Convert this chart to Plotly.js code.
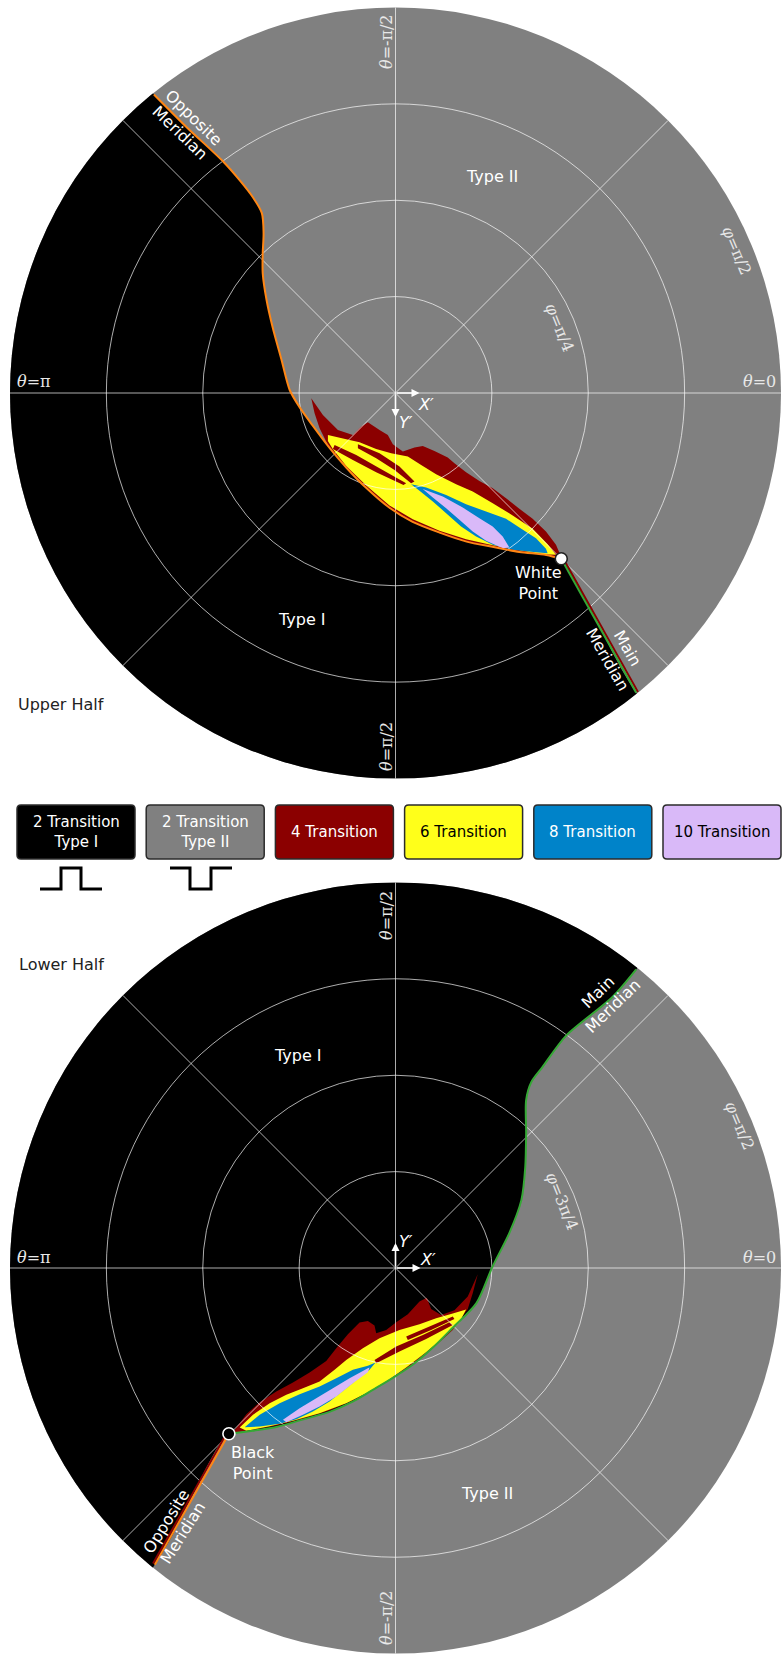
<!DOCTYPE html>
<html>
<head>
<meta charset="utf-8">
<script src="https://cdn.plot.ly/plotly-3.0.1.min.js"></script>
<style>html,body{margin:0;padding:0;background:#ffffff;}#chart{width:784px;height:1657px;}</style>
</head>
<body>
<div id="chart"></div>
<script>
// Projected coordinates X′, Y′ in degrees of arc from the disk centre.
// Upper half: Y′ points down and |(X′,Y′)| = φ.  Lower half: Y′ points up and |(X′,Y′)| = 180° − φ.

// ---------------- upper half ----------------
const upperOppositeMeridianX = [-56.4,-48.7,-40.3,-36.4,-33.3,-31.2,-30.8,-31.0,-31.0,-30.1,-28.7,-26.6,-24.7,-22.4,-19.4,-15.4,-11.4,-6.8,-1.4,4.0,10.3,16.6,22.6,28.9,35.2,38.7];
const upperOppositeMeridianY = [-69.7,-62.0,-54.1,-49.7,-45.7,-42.0,-37.3,-32.6,-28.0,-21.7,-15.4,-7.7,-0.7,3.3,7.5,12.8,17.5,22.2,26.8,30.1,32.6,34.7,35.9,37.1,37.8,38.7];
const upperMainMeridianX = [38.7, 56.2];
const upperMainMeridianY = [38.7, 70.0];
const upperMainStripX = [39.1, 56.6];
const upperMainStripY = [38.5, 69.8];
const whitePointX = [38.7];
const whitePointY = [38.7];

const upperFan4X = [-19.67,-16.95,-13.45,-9.95,-8.01,-6.45,-3.73,-1.79,-0.62,1.71,4.43,6.37,9.09,12.20,13.76,16.48,19.59,22.70,25.81,28.92,32.02,35.13,37.47,38.63,35.13,28.92,22.70,16.48,10.26,4.04,-1.40,-6.84,-11.50,-15.39,-16.56,-17.72,-18.89];
const upperFan4Y = [1.24,5.13,8.63,9.79,7.85,6.84,8.63,9.79,11.97,13.68,12.75,12.36,13.53,15.08,16.40,18.50,20.52,22.23,24.56,27.05,29.38,32.34,35.44,38.16,37.93,37.00,35.99,34.67,32.72,30.00,26.89,22.23,17.57,12.90,10.57,8.24,4.74];
const upperFan6X = [-15.78,-11.50,-8.39,-4.51,-1.01,2.88,5.99,9.48,14.15,18.03,22.70,27.36,32.02,35.52,37.47,34.36,28.92,22.70,16.48,10.26,4.04,-1.40,-6.84,-11.50,-14.61,-15.78];
const upperFan6Y = [9.79,10.80,11.50,13.06,14.07,14.85,16.79,18.97,21.30,23.01,25.73,28.60,31.71,35.29,37.78,37.62,36.69,35.52,34.12,32.18,29.46,26.27,21.61,17.02,13.14,11.19];
const upperStreakAX = [-8.78,-3.73,0.93,4.43,3.65,-0.23,-4.51,-8.78];
const upperStreakAY = [11.97,14.07,17.18,20.68,21.07,17.96,15.24,12.90];
const upperStreakBX = [-14.22,-9.17,-3.73,2.49,1.87,-4.51,-9.95,-14.61];
const upperStreakBY = [12.12,14.46,17.57,21.07,21.45,18.50,15.62,13.06];
const upperFan8X = [3.65,7.15,11.82,16.48,21.14,25.81,28.92,32.80,35.13,35.52,32.80,27.36,22.70,18.81,15.31,11.82,8.71,5.60];
const upperFan8Y = [21.30,22.08,23.79,25.96,27.67,29.38,31.40,33.89,36.38,37.39,37.15,36.61,35.44,33.50,31.17,28.06,25.34,22.85];
const upperFan10X = [6.37,11.04,15.70,19.59,22.70,25.03,26.58,25.03,21.14,18.03,14.92,11.82,8.71];
const upperFan10Y = [22.39,24.17,26.74,29.23,31.17,33.50,36.07,36.22,34.51,32.34,29.62,26.89,24.41];

// ---------------- lower half ----------------
const lowerMainMeridianX = [56.2,50.6,39.9,34.3,31.7,30.5,30.5,30.3,29.4,26.6,22.6,18.9,13.3,8.6,4.0,-0.7,-5.4,-10.0,-15.4,-21.7,-27.8,-33.3,-38.9];
const lowerMainMeridianY = [69.7,63.2,54.3,46.9,43.4,39.2,31.5,23.6,15.9,8.2,0.2,-8.2,-14.0,-18.7,-22.6,-25.7,-28.5,-31.2,-33.6,-35.4,-37.1,-38.0,-38.7];
const lowerOppositeMeridianX = [-38.9, -56.2];
const lowerOppositeMeridianY = [-38.7, -69.3];
const lowerOppositeStripX = [-39.3, -56.6];
const lowerOppositeStripY = [-38.4, -69.0];
const blackPointX = [-38.9];
const blackPointY = [-38.7];

const lowerFan4X = [-37.54,-34.82,-31.71,-27.83,-23.94,-20.05,-16.17,-13.83,-11.11,-8.39,-6.45,-4.90,-4.51,-2.17,0.16,2.88,5.60,7.31,8.32,10.65,13.76,16.87,19.20,18.03,16.87,13.37,8.71,4.04,-0.62,-5.28,-9.95,-15.39,-21.61,-27.83,-33.27,-37.93];
const lowerFan4Y = [-37.78,-34.12,-31.32,-28.84,-26.74,-24.41,-21.69,-18.73,-15.47,-12.75,-12.36,-13.45,-15.24,-14.46,-12.67,-10.80,-7.85,-6.92,-9.56,-10.96,-9.87,-6.68,-1.48,-5.91,-9.56,-14.46,-18.73,-22.46,-25.57,-28.21,-30.93,-33.27,-35.21,-36.76,-37.78,-38.55];
const lowerFan6X = [-36.38,-33.27,-29.38,-25.49,-21.61,-17.72,-14.22,-11.50,-7.62,-3.73,0.93,5.60,9.48,13.37,16.48,14.93,11.82,7.15,2.49,-2.17,-6.84,-11.50,-17.72,-23.94,-29.38,-34.82];
const lowerFan6Y = [-37.23,-34.28,-31.56,-29.61,-28.06,-26.50,-23.78,-21.45,-18.73,-16.40,-14.46,-13.13,-11.73,-10.65,-9.71,-12.67,-15.62,-19.66,-23.24,-26.50,-29.22,-31.56,-33.89,-35.68,-36.92,-38.01];
const lowerStreakAX = [-4.90,0.16,6.38,12.59,13.37,7.15,0.93,-4.51];
const lowerStreakAY = [-21.45,-18.34,-15.62,-12.67,-13.29,-16.56,-19.51,-22.23];
const lowerStreakBX = [2.49,7.93,13.37,13.76,8.32,2.88];
const lowerStreakBY = [-16.01,-13.68,-11.35,-11.89,-14.46,-16.79];
const lowerFan8X = [-35.21,-31.71,-27.05,-22.38,-17.72,-13.83,-9.95,-6.45,-4.66,-6.06,-7.62,-11.50,-15.39,-19.28,-23.16,-27.05,-31.71];
const lowerFan8Y = [-37.15,-34.28,-31.56,-29.46,-27.67,-25.72,-23.78,-22.85,-22.07,-23.78,-24.95,-28.06,-31.17,-33.50,-35.29,-36.38,-37.00];
const lowerFan10X = [-26.27,-22.38,-18.50,-14.61,-10.73,-6.45,-6.06,-6.45,-9.95,-13.83,-17.72,-21.61,-25.49];
const lowerFan10Y = [-35.45,-32.72,-30.39,-28.06,-25.72,-23.39,-23.24,-24.33,-26.89,-30.00,-32.34,-34.28,-35.99];

// ---------------- legend ----------------
const legendLabels = ['2 Transition<br>Type I','2 Transition<br>Type II','4 Transition','6 Transition','8 Transition','10 Transition'];
const legendColors = ['#000000','#808080','#8b0000','#ffff1a','#0083c9','#d9b9f8'];
const legendTextColors = ['#ffffff','#ffffff','#ffffff','#000000','#ffffff','#000000'];

// ---------------- geometry / styles ----------------
const W = 784, H = 1657;
const UP = {cx: 395.5, cy: 393, R: 385.5};
const LO = {cx: 395.5, cy: 1268, R: 385.5};
const GRID = 'rgba(255,255,255,0.68)';
const SANS = 'DejaVu Sans, Verdana, sans-serif';
const SERIF = 'DejaVu Serif, serif';
const ORANGE = '#ff8614';
const GREEN = '#35a835';
const C_TYPE1 = legendColors[0], C_TYPE2 = legendColors[1], C4 = legendColors[2], C6 = legendColors[3], C8 = legendColors[4], C10 = legendColors[5];

function domainOf(d) {
  return {x: [(d.cx - d.R) / W, (d.cx + d.R) / W], y: [1 - (d.cy + d.R) / H, 1 - (d.cy - d.R) / H]};
}
function toPolar(xs, ys, lower) {
  const theta = [], r = [];
  for (let i = 0; i < xs.length; i++) {
    const rho = Math.hypot(xs[i], ys[i]);
    theta.push(Math.atan2(ys[i], xs[i]) * 180 / Math.PI);
    r.push(lower ? 180 - rho : rho);
  }
  return {theta, r};
}
function concat(a, b) { return {theta: a.theta.concat(b.theta.slice(1)), r: a.r.concat(b.r.slice(1))}; }
// close a region around the outside of the rim (the part beyond the rim is clipped by the subplot)
function closeBeyondRim(p, lower, increasing) {
  const th = p.theta.slice(), r = p.r.slice();
  const from = th[th.length - 1];
  let to = th[0];
  if (increasing) { while (to <= from) to += 360; } else { while (to >= from) to -= 360; }
  const rOut = lower ? -40 : 220;
  const n = Math.ceil(Math.abs(to - from) / 30);
  for (let k = 0; k <= n; k++) { th.push(from + (to - from) * k / n); r.push(rOut); }
  return {theta: th, r: r};
}
function region(p, color, sub, smooth) {
  return {type: 'scatterpolar', subplot: sub, theta: p.theta, r: p.r, mode: 'lines', fill: 'toself',
    fillcolor: color, line: {width: 0, color: color, shape: smooth ? 'spline' : 'linear', smoothing: 0.8},
    hoverinfo: 'skip', cliponaxis: true, showlegend: false};
}
function curve(p, color, width, sub, smooth) {
  return {type: 'scatterpolar', subplot: sub, theta: p.theta, r: p.r, mode: 'lines',
    line: {color: color, width: width, shape: smooth ? 'spline' : 'linear', smoothing: 0.8},
    hoverinfo: 'skip', cliponaxis: true, showlegend: false};
}
function point(p, fill, edge, sub) {
  return {type: 'scatterpolar', subplot: sub, theta: p.theta, r: p.r, mode: 'markers',
    marker: {size: 12, color: fill, line: {color: edge, width: 1.6}}, hoverinfo: 'skip', cliponaxis: false, showlegend: false};
}
function polarLayout(d, lower, overlay) {
  return {
    domain: domainOf(d),
    bgcolor: overlay ? 'rgba(0,0,0,0)' : C_TYPE2,
    radialaxis: {range: lower ? [180, 90] : [0, 90], tickvals: lower ? [157.5, 135, 112.5] : [22.5, 45, 67.5],
      showticklabels: false, ticks: '', showline: false, showgrid: overlay, gridcolor: GRID, gridwidth: 1},
    angularaxis: {direction: lower ? 'counterclockwise' : 'clockwise', rotation: 0, tickmode: 'linear', tick0: 0, dtick: 45,
      showticklabels: false, ticks: '', showline: false, showgrid: overlay, gridcolor: GRID, gridwidth: 1}
  };
}

// ---------------- traces ----------------
const uOpp = toPolar(upperOppositeMeridianX, upperOppositeMeridianY, false);
const uMain = toPolar(upperMainMeridianX, upperMainMeridianY, false);
const lMain = toPolar(lowerMainMeridianX, lowerMainMeridianY, true);
const lOpp = toPolar(lowerOppositeMeridianX, lowerOppositeMeridianY, true);

const traces = [
  // upper data layer
  region(closeBeyondRim(concat(uOpp, uMain), false, true), C_TYPE1, 'polar', true),
  region(toPolar(upperFan4X, upperFan4Y, false), C4, 'polar'),
  region(toPolar(upperFan6X, upperFan6Y, false), C6, 'polar'),
  region(toPolar(upperStreakAX, upperStreakAY, false), C4, 'polar'),
  region(toPolar(upperStreakBX, upperStreakBY, false), C4, 'polar'),
  region(toPolar(upperFan8X, upperFan8Y, false), C8, 'polar'),
  region(toPolar(upperFan10X, upperFan10Y, false), C10, 'polar'),
  // lower data layer
  region(closeBeyondRim(concat(lMain, lOpp), true, false), C_TYPE1, 'polar2', true),
  region(toPolar(lowerFan4X, lowerFan4Y, true), C4, 'polar2'),
  region(toPolar(lowerFan6X, lowerFan6Y, true), C6, 'polar2'),
  region(toPolar(lowerStreakAX, lowerStreakAY, true), C4, 'polar2'),
  region(toPolar(lowerStreakBX, lowerStreakBY, true), C4, 'polar2'),
  region(toPolar(lowerFan8X, lowerFan8Y, true), C8, 'polar2'),
  region(toPolar(lowerFan10X, lowerFan10Y, true), C10, 'polar2'),
  // upper overlay (grid above fills) with meridians
  curve(toPolar(upperMainStripX, upperMainStripY, false), C4, 2, 'polar3'),
  curve(uOpp, ORANGE, 2, 'polar3', true),
  curve(uMain, GREEN, 2, 'polar3'),
  point(toPolar(whitePointX, whitePointY, false), '#ffffff', '#222222', 'polar3'),
  // lower overlay
  curve(toPolar(lowerOppositeStripX, lowerOppositeStripY, true), C4, 2, 'polar4'),
  curve(lMain, GREEN, 2, 'polar4', true),
  curve(lOpp, ORANGE, 2, 'polar4'),
  point(toPolar(blackPointX, blackPointY, true), '#000000', '#ffffff', 'polar4')
];

// ---------------- annotations ----------------
const fx = x => x / W, fy = y => 1 - y / H;
const thetaFont = {family: SERIF, size: 16, color: '#e8e8e8'};
const labelFont = {family: SANS, size: 16, color: '#ffffff'};
const darkFont = {family: SANS, size: 16, color: '#222222'};
function A(text, x, y, font, angle, anchor) {
  return {text: text, x: fx(x), y: fy(y), xref: 'paper', yref: 'paper', showarrow: false,
    xanchor: anchor || 'center', yanchor: 'middle', textangle: angle || 0, font: font};
}
function arrow(d, dx, dy) {
  return {text: '', x: fx(d.cx + dx), y: fy(d.cy + dy), xref: 'paper', yref: 'paper', showarrow: true,
    ax: -dx, ay: -dy, arrowcolor: '#ffffff', arrowwidth: 1.6, arrowhead: 2, arrowsize: 1, standoff: 0, startstandoff: 0};
}
const annotations = [
  A('<i>θ</i>=-π/2', 386, 42, thetaFont, -90),
  A('<i>θ</i>=0', 778, 382, thetaFont, 0, 'right'),
  A('<i>θ</i>=π', 15, 382, thetaFont, 0, 'left'),
  A('<i>θ</i>=π/2', 386, 747, thetaFont, -90),
  A('<i>φ</i>=π/4', 560, 327, thetaFont, 68),
  A('<i>φ</i>=π/2', 737, 250, thetaFont, 67),
  A('Type II', 492, 177, labelFont),
  A('Type I', 302, 619, labelFont),
  A('Opposite', 193.5, 117.5, labelFont, 44),
  A('Meridian', 180, 132, labelFont, 44),
  A('<i>X′</i>', 426, 404, labelFont),
  A('<i>Y′</i>', 406, 422, labelFont),
  A('White<br>Point', 538, 583, labelFont),
  A('Main', 628, 648, labelFont, 60),
  A('Meridian', 607.5, 659.5, labelFont, 60),
  A('Upper Half', 16, 704, darkFont, 0, 'left'),
  arrow(UP, 24, 0), arrow(UP, 0, 24),

  A('<i>θ</i>=π/2', 386, 916, thetaFont, -90),
  A('Lower Half', 17, 964, darkFont, 0, 'left'),
  A('Type I', 298, 1055, labelFont),
  A('Main', 597.5, 992.5, labelFont, -44),
  A('Meridian', 612, 1006, labelFont, -44),
  A('<i>φ</i>=π/2', 740, 1125, thetaFont, 67),
  A('<i>φ</i>=3π/4', 562.5, 1201, thetaFont, 68),
  A('<i>θ</i>=0', 778, 1257, thetaFont, 0, 'right'),
  A('<i>θ</i>=π', 15, 1257, thetaFont, 0, 'left'),
  A('<i>X′</i>', 428, 1259, labelFont),
  A('<i>Y′</i>', 406, 1241, labelFont),
  A('Black<br>Point', 253, 1463, labelFont),
  A('Type II', 487, 1493, labelFont),
  A('Opposite', 166, 1521, labelFont, -58),
  A('Meridian', 182, 1533, labelFont, -58),
  A('<i>θ</i>=-π/2', 386, 1618, thetaFont, -90),
  arrow(LO, 25, 0), arrow(LO, 0, -25)
];

// legend boxes
const shapes = [];
const BOX_X0 = 17, BOX_W = 118, BOX_PITCH = 129.2, BOX_Y0 = 805, BOX_Y1 = 859, RAD = 4;
function roundedRect(x0, y0, x1, y1, r) {
  const P = (x, y) => fx(x) + ',' + fy(y);
  return 'M' + P(x0 + r, y0) + ' L' + P(x1 - r, y0) + ' Q' + P(x1, y0) + ' ' + P(x1, y0 + r) +
    ' L' + P(x1, y1 - r) + ' Q' + P(x1, y1) + ' ' + P(x1 - r, y1) +
    ' L' + P(x0 + r, y1) + ' Q' + P(x0, y1) + ' ' + P(x0, y1 - r) +
    ' L' + P(x0, y0 + r) + ' Q' + P(x0, y0) + ' ' + P(x0 + r, y0) + ' Z';
}
legendLabels.forEach((lab, i) => {
  const x0 = BOX_X0 + i * BOX_PITCH, x1 = x0 + BOX_W;
  shapes.push({type: 'path', xref: 'paper', yref: 'paper', path: roundedRect(x0, BOX_Y0, x1, BOX_Y1, RAD),
    fillcolor: legendColors[i], line: {color: '#2b2b2b', width: 1.5}, layer: 'above'});
  annotations.push(A(lab, (x0 + x1) / 2, (BOX_Y0 + BOX_Y1) / 2, {family: SANS, size: 15, color: legendTextColors[i]}));
});
function poly(pts) { return pts.map((p, k) => (k ? 'L' : 'M') + fx(p[0]) + ',' + fy(p[1])).join(' '); }
shapes.push({type: 'path', xref: 'paper', yref: 'paper', layer: 'above', line: {color: '#000', width: 3},
  path: poly([[40, 889], [61, 889], [61, 868], [81, 868], [81, 889], [102, 889]])});
shapes.push({type: 'path', xref: 'paper', yref: 'paper', layer: 'above', line: {color: '#000', width: 3},
  path: poly([[170, 868], [190, 868], [190, 889], [211, 889], [211, 868], [232, 868]])});

const layout = {
  width: W, height: H, margin: {l: 0, r: 0, t: 0, b: 0}, paper_bgcolor: '#ffffff',
  showlegend: false, hovermode: false, font: {family: SANS},
  polar: polarLayout(UP, false, false),
  polar2: polarLayout(LO, true, false),
  polar3: polarLayout(UP, false, true),
  polar4: polarLayout(LO, true, true),
  annotations: annotations, shapes: shapes
};
Plotly.newPlot('chart', traces, layout, {staticPlot: true, displayModeBar: false});
</script>
</body>
</html>
